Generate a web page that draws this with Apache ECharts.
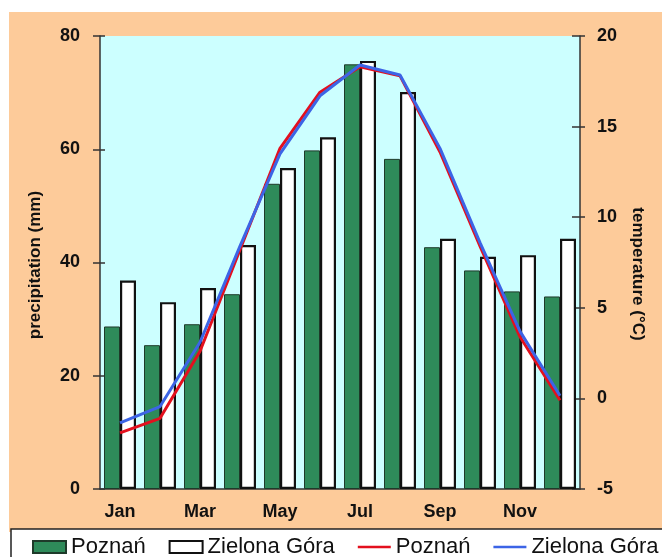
<!DOCTYPE html>
<html>
<head>
<meta charset="utf-8">
<script src="https://cdn.jsdelivr.net/npm/echarts@6/dist/echarts.min.js"></script>
<style>
  html, body { margin: 0; padding: 0; background: #fff; }
  #chart { width: 662px; height: 557px; }
</style>
</head>
<body>
<div id="chart"></div>
<script>
// Monthly climate of Poznań and Zielona Góra
const months = ['Jan', 'Feb', 'Mar', 'Apr', 'May', 'Jun', 'Jul', 'Aug', 'Sep', 'Oct', 'Nov', 'Dec'];
const precipPoznan = [28.7, 25.4, 29.1, 34.4, 53.9, 59.8, 75.0, 58.3, 42.7, 38.6, 34.9, 34.0];
const precipZielona = [36.8, 33.0, 35.5, 43.1, 56.7, 62.1, 75.6, 70.1, 44.2, 41.0, 41.3, 44.2];
const tempPoznan = [-1.9, -1.1, 2.6, 8.2, 13.8, 16.9, 18.3, 17.8, 13.6, 8.4, 3.4, -0.1];
const tempZielona = [-1.35, -0.45, 3.1, 8.4, 13.5, 16.7, 18.4, 17.85, 13.8, 8.6, 3.7, 0.15];

const precipRange = { min: 0, max: 80, interval: 20 };
const tempRange = { min: -5, max: 20, interval: 5 };

const FONT = 'Liberation Sans, Arial, sans-serif';
const AXIS_COLOR = '#333';
const LINE_ICON = 'path://M0,0 L33,0 L33,2.6 L0,2.6 Z';

const chart = echarts.init(document.getElementById('chart'), null, { renderer: 'canvas' });

const tickLabel = { fontSize: 18, fontWeight: 'bold', color: '#111', fontFamily: FONT };

const option = {
  animation: false,
  backgroundColor: '#ffffff',
  textStyle: { fontFamily: FONT },
  graphic: [
    { type: 'rect', z: -10, shape: { x: 9, y: 12, width: 660, height: 520 },
      style: { fill: '#FDCB9A' } },
    { type: 'rect', z: -5, shape: { x: 11, y: 529, width: 660, height: 40 },
      style: { fill: '#ffffff', stroke: '#222', lineWidth: 1.5 } },
    { type: 'text', x: 35, y: 265, rotation: Math.PI / 2,
      style: { text: 'precipitation (mm)', fontSize: 17, fontWeight: 'bold', fontFamily: FONT,
               fill: '#111', align: 'center', verticalAlign: 'middle' } },
    { type: 'text', x: 638, y: 274, rotation: -Math.PI / 2,
      style: { text: 'temperature (°C)', fontSize: 17, fontWeight: 'bold', fontFamily: FONT,
               fill: '#111', align: 'center', verticalAlign: 'middle' } }
  ],
  grid: { left: 100, right: 82, top: 36, bottom: 68, show: true,
          backgroundColor: '#CCFFFF', borderWidth: 0 },
  legend: {
    left: 27, top: 531, width: 645, itemWidth: 33, itemHeight: 12, itemGap: 23,
    selectedMode: false,
    textStyle: { fontSize: 22, color: '#111', fontFamily: FONT },
    formatter: name => name.trim(),
    data: [
      { name: 'Poznań', icon: 'rect' },
      { name: 'Zielona Góra', icon: 'rect' },
      { name: 'Poznań ', icon: LINE_ICON },
      { name: 'Zielona Góra ', icon: LINE_ICON }
    ]
  },
  xAxis: [
    { type: 'category', data: months, boundaryGap: true,
      axisLine: { lineStyle: { color: AXIS_COLOR, width: 1.5 } },
      axisTick: { interval: 0, length: 6, lineStyle: { color: AXIS_COLOR, width: 1.5 } },
      axisLabel: Object.assign({ interval: 1, margin: 14 }, tickLabel),
      splitLine: { show: false } },
    { type: 'category', data: months, position: 'bottom', boundaryGap: true,
      axisLine: { show: false },
      axisTick: { inside: true, interval: 0, length: 4, lineStyle: { color: AXIS_COLOR, width: 1.5 } },
      axisLabel: { show: false }, splitLine: { show: false } }
  ],
  yAxis: [
    Object.assign({ type: 'value', position: 'left',
      axisLine: { show: true, lineStyle: { color: AXIS_COLOR, width: 1.5 } },
      axisTick: { show: true, length: 7, lineStyle: { color: AXIS_COLOR, width: 1.5 } },
      axisLabel: Object.assign({ margin: 20 }, tickLabel),
      splitLine: { show: false } }, precipRange),
    Object.assign({ type: 'value', position: 'right',
      axisLine: { show: true, lineStyle: { color: AXIS_COLOR, width: 1.5 } },
      axisTick: { show: true, length: 5, lineStyle: { color: AXIS_COLOR, width: 1.5 } },
      axisLabel: Object.assign({ margin: 17 }, tickLabel),
      splitLine: { show: false } }, tempRange),
    Object.assign({ type: 'value', position: 'left',
      axisLine: { show: false },
      axisTick: { show: true, inside: true, length: 5, lineStyle: { color: AXIS_COLOR, width: 1.5 } },
      axisLabel: { show: false }, splitLine: { show: false } }, precipRange),
    Object.assign({ type: 'value', position: 'right',
      axisLine: { show: false },
      axisTick: { show: true, inside: true, length: 8, lineStyle: { color: AXIS_COLOR, width: 1.5 } },
      axisLabel: { show: false }, splitLine: { show: false } }, tempRange)
  ],
  series: [
    { name: 'Poznań', type: 'bar', yAxisIndex: 0, data: precipPoznan,
      barWidth: 16, barGap: '0%',
      itemStyle: { color: '#2E8B5A', borderColor: '#1E3A2A', borderWidth: 1 } },
    { name: 'Zielona Góra', type: 'bar', yAxisIndex: 0, data: precipZielona,
      barWidth: 16, barGap: '0%',
      itemStyle: { color: '#ffffff', borderColor: '#111', borderWidth: 2.2 } },
    { name: 'Poznań ', type: 'line', yAxisIndex: 1, data: tempPoznan,
      symbol: 'none', z: 5,
      lineStyle: { color: '#E3101E', width: 3 }, itemStyle: { color: '#E3101E' } },
    { name: 'Zielona Góra ', type: 'line', yAxisIndex: 1, data: tempZielona,
      symbol: 'none', z: 6,
      lineStyle: { color: '#3C64E6', width: 3 }, itemStyle: { color: '#3C64E6' } }
  ]
};

chart.setOption(option);
</script>
</body>
</html>
